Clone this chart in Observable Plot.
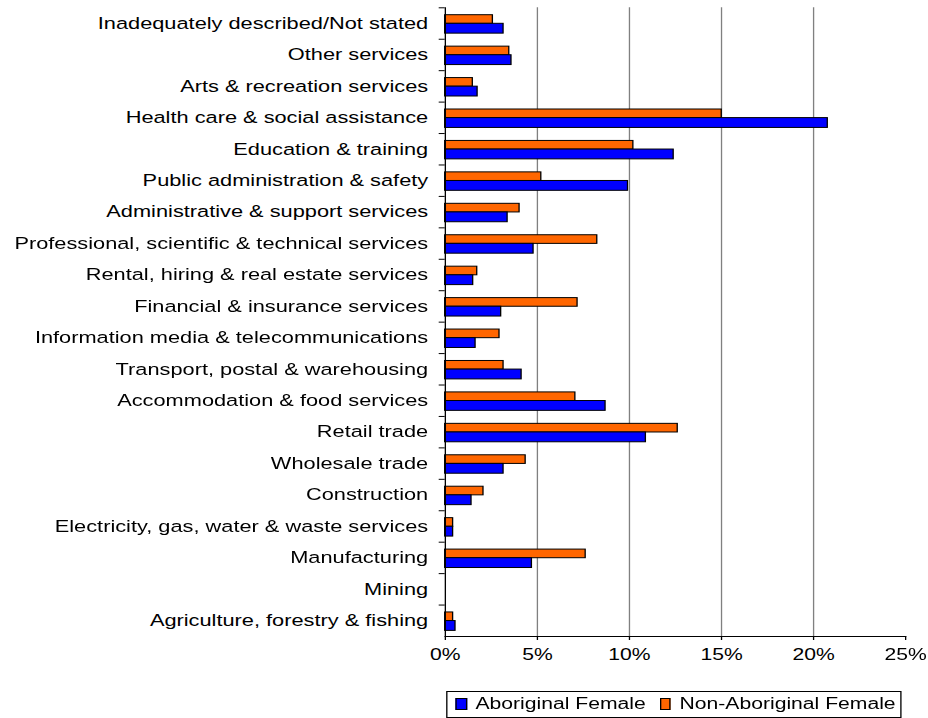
<!DOCTYPE html>
<html>
<head>
<meta charset="utf-8">
<script src="https://cdn.jsdelivr.net/npm/d3@7"></script>
<script src="https://cdn.jsdelivr.net/npm/@observablehq/plot@0.6"></script>
<style>
  html, body { margin: 0; padding: 0; background: #fff; overflow: hidden; }
  #figure { transform-origin: 0 0; font-family: "Liberation Sans", Arial, sans-serif; color: #000; }
  .legend {
    box-sizing: border-box;
    display: flex;
    align-items: center;
    height: 27px;
    border: 1px solid #000;
    font-size: 16px;
    white-space: nowrap;
  }
  .legend .swatch { box-sizing: border-box; display: inline-block; height: 11.7px; border: 1px solid #000; flex: none; }
</style>
</head>
<body>
<div id="figure"></div>
<script>
// Share of employed women by industry (%), listed top to bottom
const industries = [
  "Inadequately described/Not stated",
  "Other services",
  "Arts & recreation services",
  "Health care & social assistance",
  "Education & training",
  "Public administration & safety",
  "Administrative & support services",
  "Professional, scientific & technical services",
  "Rental, hiring & real estate services",
  "Financial & insurance services",
  "Information media & telecommunications",
  "Transport, postal & warehousing",
  "Accommodation & food services",
  "Retail trade",
  "Wholesale trade",
  "Construction",
  "Electricity, gas, water & waste services",
  "Manufacturing",
  "Mining",
  "Agriculture, forestry & fishing"
];
const aboriginalFemale = [3.17, 3.6, 1.76, 20.78, 12.41, 9.93, 3.39, 4.80, 1.52, 3.04, 1.65, 4.15, 8.71, 10.9, 3.17, 1.43, 0.43, 4.71, 0, 0.56];
const nonAboriginalFemale = [2.59, 3.48, 1.50, 15.02, 10.22, 5.22, 4.04, 8.26, 1.74, 7.19, 2.95, 3.17, 7.07, 12.63, 4.37, 2.08, 0.43, 7.63, 0, 0.43];
const seriesNames = ["Aboriginal Female", "Non-Aboriginal Female"];
const seriesColors = ["#0000ff", "#ff6600"];
const xTicks = [0, 5, 10, 15, 20, 25];
const gridTicks = [5, 10, 15, 20];

// The whole figure is drawn narrow and widened horizontally
const S = 1.32;
const W = 928 / S;
const H = 686;
const plotTop = 7.3, plotBottom = 636;
const step = (plotBottom - plotTop) / industries.length;

const abRows = industries.map((industry, i) => ({industry, value: aboriginalFemale[i]}));
const nonRows = industries.map((industry, i) => ({industry, value: nonAboriginalFemale[i]}));

const chart = Plot.plot({
  width: W,
  height: H,
  marginLeft: 444.7 / S,
  marginRight: 23 / S,
  marginTop: plotTop,
  marginBottom: H - plotBottom,
  style: {fontFamily: '"Liberation Sans", Arial, sans-serif', fontSize: "16px", color: "#000", background: "#fff", overflow: "visible"},
  x: {domain: [0, 25]},
  y: {domain: industries, padding: 0, round: false},
  marks: [
    Plot.ruleX(gridTicks, {stroke: "#808080", strokeWidth: 1}),
    Plot.barX(nonRows, {x: "value", y: "industry", fill: seriesColors[1], stroke: "#000", strokeWidth: 1, insetTop: 7.4, insetBottom: 15.4}),
    Plot.barX(abRows, {x: "value", y: "industry", fill: seriesColors[0], stroke: "#000", strokeWidth: 1, insetTop: 16, insetBottom: 5.6}),
    Plot.frame({anchor: "left", stroke: "#000"}),
    Plot.frame({anchor: "bottom", stroke: "#000"}),
    Plot.axisX({ticks: xTicks, tickFormat: d => d + "%", tickSize: 4, tickPadding: 8, label: null}),
    Plot.axisY({tickSize: 0, tickPadding: 13, label: null, fontSize: 16.5}),
    Plot.axisY({tickSize: 6 / S, tickFormat: () => "", dy: -step / 2, label: null})
  ]
});

const fig = document.getElementById("figure");
fig.style.width = W + "px";
fig.style.transform = `scaleX(${S})`;
fig.appendChild(chart);

// Legend box under the chart
const legend = document.createElement("div");
legend.className = "legend";
legend.style.marginTop = "4.7px";
legend.style.marginLeft = (446.7 / S) + "px";
legend.style.width = ((901 - 446.7) / S) + "px";
legend.style.paddingLeft = (7.3 / S) + "px";
seriesNames.forEach((name, i) => {
  const sw = document.createElement("span");
  sw.className = "swatch";
  sw.style.width = (11.7 / S) + "px";
  sw.style.background = seriesColors[i];
  if (i > 0) sw.style.marginLeft = (13.7 / S) + "px";
  const label = document.createElement("span");
  label.textContent = name;
  label.style.marginLeft = (8.5 / S) + "px";
  legend.appendChild(sw);
  legend.appendChild(label);
});
fig.appendChild(legend);
</script>
</body>
</html>
